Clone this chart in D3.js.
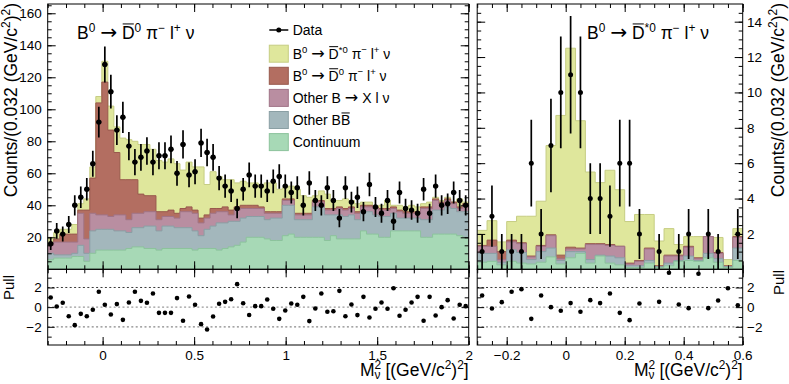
<!DOCTYPE html>
<html>
<head>
<meta charset="utf-8">
<script src="https://cdn.jsdelivr.net/npm/d3@7"></script>
<style>
body { margin: 0; background: #fff; }
svg { display: block; font-family: "Liberation Sans", Arial, Helvetica, sans-serif; }
</style>
</head>
<body>
<svg id="chart" width="789" height="384"></svg>
<script>
// ---------- data ----------
// left panel: 70 bins over [-0.3, 2.0]
const dataLeft = [16,24,22,28,40,45,50,66,92,128, 111,87,95,77,67,70,74,67,71,71, 75,60,78,59,61,79,73,70,57,52,
  49,38,50,59,52,52,49,55,58,52, 48,51,40,54,43,40,51,43,32,51, 42,45,36,53,39,35,43,30,48,38, 37,35,50,35,52,40,41,48,43,40];
const pullLeft = [0.98,0.07,0.44,-0.92,-1.83,-0.68,-0.92,-0.27,1.56,0.24, -0.75,0.31,-1.29,0.47,1.56,0.64,0.44,1.39,-0.58,-0.58,
  -0.58,0.92,-1.39,1.08,0.24,-1.73,-2.27,-0.95,0.34,0.54, 0.81,2.34,0.39,-0.8,0.1,0.1,0.78,-0.17,-1.19,-0.34,
  0.37,0.24,1.05,-1.42,-0.14,1.39,-0.47,-0.41,1.66,-0.92, 0.27,-0.81,1.05,-1.05,-0.17,0.47,-0.17,1.93,-0.88,-0.27,
  0.47,1.05,-1.39,1.05,-0.85,0,0.71,-1.15,0.24,0.1];
const contLeft = [6,7,7,7,8,8,5,10,12,12, 12,12,12,13,14,14,13,13,12,13, 13,13,13,13,12,13,13,13,12,13,
  14,15,17,20,20,20,19,18,18,21, 22,20,20,20,20,20,18,21,19,19, 19,19,24,22,22,20,20,24,24,24, 24,24,20,20,22,22,22,22,21,20];
const bbLeft = [4,2,2,2,2,7,5,14,13,13, 13,12,12,10,12,12,14,14,12,14, 14,13,13,13,12,8,12,14,17,16,
  16,15,15,13,13,13,12,14,14,19, 18,11,11,11,19,19,16,13,15,14, 15,12,12,14,12,13,13,11,8,8, 8,8,11,11,15,15,17,16,15,16];
const xlnuLeft = [5,8,8,8,7,20,9,11,9,9, 8,10,10,8,9,9,9,9,7,6, 6,6,10,10,11,8,7,8,7,7,
  4,7,6,5,5,5,4,3,3,3, 3,3,3,3,3,3,3,3,4,4, 4,4,3,3,4,4,4,3,4,3, 3,3,7,7,6,4,4,3,2,4];
const d0Left = [1,2,5,5,5,2,18,22,70,83, 54,39,22,25,21,12,10,10,5,3, 4,3,2,3,2,3,2,3,2,3,
  3,2,2,2,2,1,1,1,1,1, 1,1,1,1,1,1,1,1,1,1, 1,1,1,1,1,1,1,1,1,1, 1,1,1,1,1,1,1,1,1,1];
const dstarLeft = [4,4,3,3,6,4,7,7,4,13, 15,16,26,25,24,31,32,29,32,31, 32,31,24,28,27,32,19,23,20,17,
  19,15,15,14,14,14,18,18,14,7, 8,15,11,10,3,6,9,5,4,6, 4,5,2,2,0,2,5,1,3,3, 4,3,2,3,1,1,1,0,5,1];

// right panel: 27 bins over [-0.3, 0.6]
const dataRight = [1,3,1,1,1,6,2,7,10,11, 10,4,4,3,6,6,2,0,1,0, 1,2,0,2,1,0,2];
const pullRight = [1.19,-0.14,0.51,1.56,1.83,-1.19,1.19,0,-0.37,0.41, -0.47,0.71,0.41,1.39,-0.58,-1.32,0.37,null,0.54,3.5,
  0.27,-0.1,3.4,-0.1,0.68,1.93,0.2];
const contRight = [0.4,0.45,0.25,0.45,0.35,0.3,0.4,0.7,0.3,0.65, 0.9,0.35,0.75,0.35,0.25,0.1,0.1,0.35,0.1,0.2, 0.45,0.5,0.45,0.65,0.4,0.1,0.5];
const bbRight = [0.5,0.45,0.15,0.65,0.6,0.25,0.6,0.5,0.2,0.35, 0.1,0.2,0.05,0.4,0.4,0.1,0.1,0.15,0.05,0.15, 0.05,0.25,0.05,0.25,0.2,0.05,0.7];
const xlnuRight = [0.4,0.4,0.15,0.45,0.5,0.15,0.3,0.7,0.1,0.15, 0.15,0.85,0.6,0.6,0.65,0.1,0.25,0.65,0,0.4, 0.25,0.5,0.1,0.95,0.3,0,0.6];
const d0Right = [0.05,0.35,0.45,0.1,0.05,0.05,0.05,0.05,0.2,0.1, 0.05,0.05,0.05,0.05,0,0.05,0.05,0.05,0.05,0.05, 0.05,0.05,0.05,0,0.05,0.05,0.05];
const dstarRight = [0.85,1.1,0.55,1.05,1.5,2.25,2.5,5.05,7.9,11.25, 7.2,4.05,3.45,4.2,3.2,2.35,2.6,1.9,1.4,1.5, 0.6,0.55,1.2,0,0.85,0.35,0.45];

// tick values
const xMajorLeft = [0, 0.5, 1, 1.5, 2];
const xMinorLeft = d3.range(-3, 21).map(v => v / 10);
const xMajorRight = [-0.2, 0, 0.2, 0.4, 0.6];
const xMinorRight = d3.range(-6, 13).map(v => v / 20);
const yMajorLeft = d3.range(20, 161, 20);
const yMinorLeft = d3.range(5, 166, 5);
const yMajorRight = d3.range(2, 15, 2);
const yMinorRight = d3.range(0.5, 15, 0.5);
const pullMajor = [-2, 0, 2];
const pullMinor = [-3, -1, 1, 3];

const keys = ['cont', 'bb', 'xlnu', 'd0', 'dstar'];
const fills = {cont: '#a7d9b6', bb: '#a3b7bc', xlnu: '#b98ea1', d0: '#b36e61', dstar: '#dfe79c'};
const strokes = {cont: '#8cc39c', bb: '#8a9fa4', xlnu: '#a07487', d0: '#98594d', dstar: '#c6cd83'};

// ---------- layout ----------
const TOP = 4, MID = 269.3, BOT = 345;
const svg = d3.select('#chart');

const xL = d3.scaleLinear().domain([-0.3, 2.0]).range([47.7, 468.7]);
const xR = d3.scaleLinear().domain([-0.3, 0.6]).range([477.2, 742.7]);
const yL = d3.scaleLinear().domain([0, 165.8]).range([MID, TOP]);
const yR = d3.scaleLinear().domain([0, 15]).range([MID, TOP]);
const yP = d3.scaleLinear().domain([-3.85, 3.85]).range([BOT, MID]);

function axis(orient, scale, at, vals, size, fmt, pad) {
  const make = {bottom: d3.axisBottom, top: d3.axisTop, left: d3.axisLeft, right: d3.axisRight}[orient];
  const a = make(scale).tickValues(vals).tickSizeInner(-size).tickSizeOuter(0)
    .tickPadding(pad || 3).tickFormat(fmt || (() => ''));
  const horiz = orient === 'bottom' || orient === 'top';
  const g = svg.append('g').attr('transform', horiz ? `translate(0,${at})` : `translate(${at},0)`).call(a);
  g.select('.domain').remove();
  g.attr('font-size', 13.5).attr('font-family', null);
  g.selectAll('line').attr('stroke', '#000');
  g.selectAll('text').attr('fill', '#000');
  return g;
}

function drawPanel(o) {
  const [x0, x1] = o.x.range();
  const n = o.data.length;
  const edges = d3.range(n + 1).map(j => o.x.domain()[0] + j * (o.x.domain()[1] - o.x.domain()[0]) / n);
  const centre = i => o.x((edges[i] + edges[i + 1]) / 2);

  const defs = svg.append('defs');
  defs.append('clipPath').attr('id', 'm' + o.name).append('rect')
    .attr('x', x0).attr('y', TOP).attr('width', x1 - x0).attr('height', MID - TOP);
  defs.append('clipPath').attr('id', 'p' + o.name).append('rect')
    .attr('x', x0).attr('y', MID).attr('width', x1 - x0).attr('height', BOT - MID);

  // stacked histograms
  const rows = d3.range(n).map(i => {
    const r = {};
    keys.forEach((k, j) => { r[k] = o.comp[j][i]; });
    return r;
  });
  const layers = d3.stack().keys(keys)(rows);
  const area = d3.area().x(p => o.x(p[0])).y0(o.y(0)).y1(p => o.y(p[1]));
  const line = d3.line().x(p => o.x(p[0])).y(p => o.y(p[1]));
  const hist = svg.append('g').attr('clip-path', `url(#m${o.name})`);
  layers.slice().reverse().forEach(L => {
    const pts = L.flatMap((d, i) => [[edges[i], d[1]], [edges[i + 1], d[1]]]);
    hist.append('path').attr('d', area(pts)).attr('fill', fills[L.key]);
    hist.append('path').attr('d', line(pts)).attr('fill', 'none')
      .attr('stroke', strokes[L.key]).attr('stroke-width', 1);
  });

  // data points with Poisson errors
  const pts = d3.range(n).filter(i => o.data[i] > 0);
  const dg = svg.append('g').attr('clip-path', `url(#m${o.name})`);
  dg.selectAll('.ey').data(pts).enter().append('line')
    .attr('x1', centre).attr('x2', centre)
    .attr('y1', i => o.y(o.data[i] - Math.sqrt(o.data[i])))
    .attr('y2', i => o.y(o.data[i] + Math.sqrt(o.data[i])))
    .attr('stroke', '#000').attr('stroke-width', 1.7);
  if (o.xErr) {
    dg.selectAll('.ex').data(pts).enter().append('line')
      .attr('x1', i => o.x(edges[i]) + 0.5).attr('x2', i => o.x(edges[i + 1]) - 0.5)
      .attr('y1', i => o.y(o.data[i])).attr('y2', i => o.y(o.data[i]))
      .attr('stroke', '#000').attr('stroke-width', 1.3);
  }
  dg.selectAll('.pt').data(pts).enter().append('circle')
    .attr('cx', centre).attr('cy', i => o.y(o.data[i])).attr('r', o.r).attr('fill', '#000');

  // pull panel
  const pg = svg.append('g').attr('clip-path', `url(#p${o.name})`);
  [[2, '#222', 0.9], [0, '#999', 1.1], [-2, '#888', 1.3]].forEach(([v, c, w]) => {
    pg.append('line').attr('x1', x0).attr('x2', x1).attr('y1', yP(v)).attr('y2', yP(v))
      .attr('stroke', c).attr('stroke-width', w).attr('stroke-dasharray', '2,2.4');
  });
  const pp = d3.range(n).filter(i => o.pulls[i] !== null);
  pg.selectAll('.pull').data(pp).enter().append('circle')
    .attr('cx', centre).attr('cy', i => yP(o.pulls[i])).attr('r', 2.3).attr('fill', '#000');

  // frames
  [[TOP, MID], [MID, BOT]].forEach(([a, b]) => {
    svg.append('rect').attr('x', x0).attr('y', a).attr('width', x1 - x0).attr('height', b - a)
      .attr('fill', 'none').attr('stroke', '#000').attr('stroke-width', 1);
  });

  // ticks
  const fx = d3.format('~g');
  [[TOP, 'top'], [MID, 'bottom'], [MID, 'top'], [BOT, 'bottom']].forEach(([at, side]) => {
    axis(side, o.x, at, o.xMinor, 4);
    const lab = at === BOT;
    axis(side, o.x, at, o.xMajor, 8, lab ? fx : null, 5.4);
  });
  const labLeft = o.labelSide === 'left';
  axis('left', o.y, x0, o.yMinor, 4);
  axis('left', o.y, x0, o.yMajor, 8, labLeft ? d3.format('d') : null, 6);
  axis('right', o.y, x1, o.yMinor, 4);
  axis('right', o.y, x1, o.yMajor, 8, labLeft ? null : d3.format('d'), 4.3);
  axis('left', yP, x0, pullMinor, 4);
  axis('left', yP, x0, pullMajor, 7, labLeft ? fx : null, 6);
  axis('right', yP, x1, pullMinor, 4);
  axis('right', yP, x1, pullMajor, 7, labLeft ? null : fx, 4.3);
}

drawPanel({name: 'L', x: xL, y: yL, data: dataLeft, pulls: pullLeft,
  comp: [contLeft, bbLeft, xlnuLeft, d0Left, dstarLeft], xErr: true, r: 2.7,
  xMajor: xMajorLeft, xMinor: xMinorLeft, yMajor: yMajorLeft, yMinor: yMinorLeft, labelSide: 'left'});
drawPanel({name: 'R', x: xR, y: yR, data: dataRight, pulls: pullRight,
  comp: [contRight, bbRight, xlnuRight, d0Right, dstarRight], xErr: false, r: 2.5,
  xMajor: xMajorRight, xMinor: xMinorRight, yMajor: yMajorRight, yMinor: yMinorRight, labelSide: 'right'});

// ---------- rich text (super/subscripts, bars, arrows) ----------
function rich(parent, x, y, segs, fs, anchor, rotate) {
  const g = parent.append('g').attr('transform', `translate(${x},${y})` + (rotate ? ` rotate(${rotate})` : ''));
  const t = g.append('text').attr('font-size', fs).attr('text-anchor', anchor || 'start').attr('fill', '#000');
  let shift = 0, prev = null;
  const bars = [];
  segs.forEach(s => {
    const [txt, k] = Array.isArray(s) ? s : [s, 'n'];
    const small = k === 'sup' || k === 'sub' || k === 'subb';
    const target = k === 'sup' ? -0.4 * fs : (k === 'sub' || k === 'subb') ? 0.18 * fs : 0;
    const sp = t.append('tspan').text(txt).attr('font-size', small ? 0.68 * fs : fs);
    if (k === 'arrow') sp.attr('font-family', 'DejaVu Sans').attr('font-size', 1.15 * fs);
    if (target !== shift) sp.attr('dy', target - shift);
    if (k === 'subb' && prev) sp.attr('dx', -prev.node().getComputedTextLength());
    shift = target;
    if (k === 'bar') bars.push(sp);
    prev = sp;
  });
  bars.forEach(sp => {
    const nd = sp.node();
    const p = nd.getStartPositionOfChar(0);
    const w = nd.getComputedTextLength();
    g.append('line').attr('x1', p.x + 0.06 * w).attr('x2', p.x + 0.94 * w)
      .attr('y1', p.y - 0.86 * fs).attr('y2', p.y - 0.86 * fs)
      .attr('stroke', '#000').attr('stroke-width', 1);
  });
  return g;
}

const decayD0 = ['B', ['0', 'sup'], ' ', ['\u2192', 'arrow'], ' ', ['D', 'bar'], ['0', 'sup'], ' \u03c0', ['\u2212', 'sup'], ' l', ['+', 'sup'], ' \u03bd'];
const decayDs = ['B', ['0', 'sup'], ' ', ['\u2192', 'arrow'], ' ', ['D', 'bar'], ['*0', 'sup'], ' \u03c0', ['\u2212', 'sup'], ' l', ['+', 'sup'], ' \u03bd'];
const yTitle = ['Counts/(0.032 (GeV/c', ['2', 'sup'], ')', ['2', 'sup'], ')'];
const xTitle = ['M', ['2', 'sup'], ['\u03bd', 'subb'], ' [(GeV/c', ['2', 'sup'], ')', ['2', 'sup'], ']'];

// panel titles
rich(svg, 77, 39, decayD0, 17.5);
rich(svg, 587, 39, decayDs, 17.5);

// axis titles
rich(svg, 17, 3, yTitle, 17.5, 'end', -90);
rich(svg, 784, 3, yTitle, 17.5, 'end', -90);
rich(svg, 468.7, 376, xTitle, 17.5, 'end');
rich(svg, 742.7, 376, xTitle, 17.5, 'end');
rich(svg, 14, 275, ['Pull'], 15, 'end', -90);
rich(svg, 784, 270, ['Pull'], 15, 'end', -90);

// ---------- legend ----------
const legendRows = [
  {key: 'dstar', segs: decayDs},
  {key: 'd0', segs: decayD0},
  {key: 'xlnu', segs: ['Other B ', ['\u2192', 'arrow'], ' X l \u03bd']},
  {key: 'bb', segs: ['Other B', ['B', 'bar']]},
  {key: 'cont', segs: ['Continuum']}
];
const lg = svg.append('g');
const lx = 269.3, lw = 19, ltx = 292.7;
lg.append('line').attr('x1', lx).attr('x2', lx + lw).attr('y1', 30).attr('y2', 30)
  .attr('stroke', '#000').attr('stroke-width', 1.5);
lg.append('circle').attr('cx', lx + lw / 2).attr('cy', 30).attr('r', 2.5).attr('fill', '#000');
rich(lg, ltx, 35, ['Data'], 14);
const rowY = d3.scaleLinear().domain([0, 1]).range([53.7, 75.8]);
legendRows.forEach((r, i) => {
  const cy = rowY(i);
  lg.append('rect').attr('x', lx).attr('y', cy - 8.5).attr('width', lw).attr('height', 17)
    .attr('fill', fills[r.key]).attr('stroke', strokes[r.key]).attr('stroke-width', 1);
  rich(lg, ltx, cy + 5, r.segs, 14);
});
</script>
</body>
</html>
